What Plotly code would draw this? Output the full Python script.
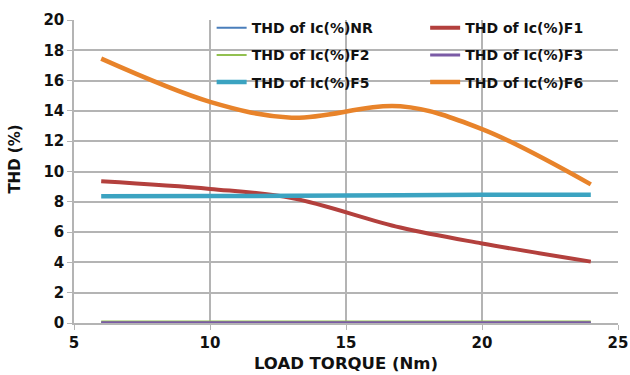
import plotly.graph_objects as go

torque = [6, 10, 13, 17, 20, 24]
thd_nr = [0.0, 0.0, 0.0, 0.0, 0.0, 0.0]
thd_f1 = [9.35, 8.85, 8.25, 6.3, 5.25, 4.05]
thd_f2 = [0.1, 0.1, 0.1, 0.1, 0.1, 0.1]
thd_f3 = [0.02, 0.02, 0.02, 0.02, 0.02, 0.02]
thd_f5 = [8.37, 8.38, 8.4, 8.44, 8.46, 8.47]
thd_f6 = [17.45, 14.6, 13.55, 14.3, 12.8, 9.15]

series = [
    ("THD of Ic(%)NR", thd_nr, "#4A7EBB", 2, "legend"),
    ("THD of Ic(%)F1", thd_f1, "#B3403D", 4, "legend2"),
    ("THD of Ic(%)F2", thd_f2, "#92C050", 2, "legend"),
    ("THD of Ic(%)F3", thd_f3, "#7B5BA6", 3, "legend2"),
    ("THD of Ic(%)F5", thd_f5, "#3BA3C1", 4.5, "legend"),
    ("THD of Ic(%)F6", thd_f6, "#E8832A", 4.5, "legend2"),
]

fig = go.Figure()
for name, ys, col, w, lg in series:
    fig.add_trace(go.Scatter(
        x=torque, y=ys, name=name, mode="lines",
        line=dict(color=col, width=w, shape="spline", smoothing=1.0),
        legend=lg, legendgroup=name,
    ))

font_family = "DejaVu Sans"
legend_font = dict(family=font_family, size=14, color="#111111", weight="bold")
fig.update_layout(
    width=630, height=375,
    margin=dict(l=74, r=12, t=17, b=52),
    paper_bgcolor="white", plot_bgcolor="white",
    font=dict(family=font_family, color="#111111"),
    legend=dict(x=0.253, y=1.026, xanchor="left", yanchor="top",
                bgcolor="rgba(0,0,0,0)", font=legend_font, tracegroupgap=6),
    legend2=dict(x=0.6455, y=1.026, xanchor="left", yanchor="top",
                 bgcolor="rgba(0,0,0,0)", font=legend_font, tracegroupgap=6),
    xaxis=dict(
        range=[5, 25], dtick=5, tick0=5, automargin=False,
        showgrid=True, gridcolor="#B4B4B4", gridwidth=1.5,
        showline=True, linecolor="#B4B4B4", linewidth=1.5,
        ticks="outside", ticklen=5, tickcolor="#B4B4B4",
        tickfont=dict(family=font_family, size=15, color="#111111", weight="bold"),
        title=dict(text="LOAD TORQUE (Nm)", standoff=7,
                   font=dict(family=font_family, size=16.5, color="#111111", weight="bold")),
        zeroline=False, mirror=False,
    ),
    yaxis=dict(
        range=[0, 20], dtick=2, automargin=False,
        showgrid=True, gridcolor="#B4B4B4", gridwidth=1.5,
        showline=True, linecolor="#B4B4B4", linewidth=1.5,
        ticks="outside", ticklen=5, tickcolor="#B4B4B4",
        tickfont=dict(family=font_family, size=15, color="#111111", weight="bold"),
        zeroline=False,
    ),
    annotations=[dict(
        text="THD (%)", textangle=-90, xref="paper", yref="paper",
        x=(15 - 74) / 544, y=(323 - 158) / 306, xanchor="center", yanchor="middle",
        showarrow=False,
        font=dict(family=font_family, size=15, color="#111111", weight="bold"),
    )],
)

fig.write_html("out.html")
